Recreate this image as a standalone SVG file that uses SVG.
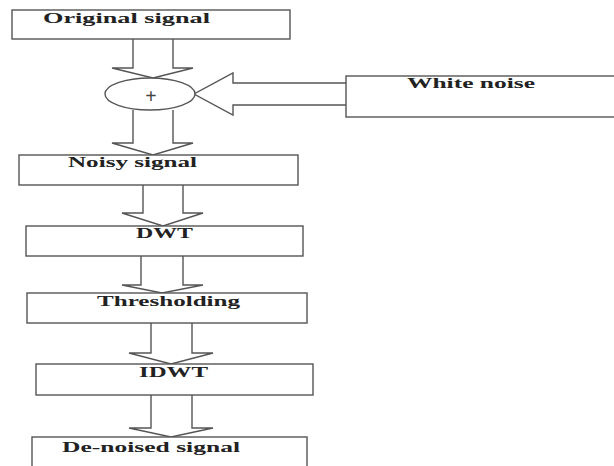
<svg xmlns="http://www.w3.org/2000/svg" width="614" height="466" viewBox="0 0 614 466">
<style>
.box{fill:#fff;stroke:#555;stroke-width:1.4}
.arr{fill:#fff;stroke:#555;stroke-width:1.4;stroke-linejoin:miter}
.lbl{font-family:"Liberation Serif","Times New Roman",serif;font-weight:bold;font-size:15px;fill:#222}
</style>
<rect width="614" height="466" fill="#fff"/>
<g id="connectors">
<polyline class="arr" points="133,39 133,68 112,68 153,78 193,68 173,68 173,39"/>
<polyline class="arr" points="133,110 133,143 112,143 153,155 193,143 173,143 173,110"/>
<polyline class="arr" points="143,185 143,213 122,213 163,226 203,213 183,213 183,185"/>
<polyline class="arr" points="141,256 141,285 122,285 162,293 203,285 183,285 183,256"/>
<polyline class="arr" points="151,323 151,353 129,353 171,364 213,353 192,353 192,323"/>
<polyline class="arr" points="151,395 151,428 129,428 171,437 213,428 192,428 192,395"/>
<polyline class="arr" points="346,83 233,83 233,73 194,94 233,115 233,105 346,105"/>
</g>
<g id="original">
<rect class="box" x="12" y="10" width="278" height="29"/>
<text class="lbl" x="43" y="23" textLength="167" lengthAdjust="spacingAndGlyphs">Original  signal</text>
</g>
<g id="adder">
<ellipse class="box" cx="150" cy="94" rx="45" ry="16"/>
<text class="lbl" x="151" y="103" text-anchor="middle" style="font-size:20px;fill:#444">+</text>
</g>
<g id="whitenoise">
<rect class="box" x="346" y="76" width="274" height="41"/>
<text class="lbl" x="407" y="88" textLength="128" lengthAdjust="spacingAndGlyphs">White noise</text>
</g>
<g id="noisy">
<rect class="box" x="19" y="155" width="279" height="30"/>
<text class="lbl" x="68" y="167" textLength="129" lengthAdjust="spacingAndGlyphs">Noisy signal</text>
</g>
<g id="dwt">
<rect class="box" x="26" y="226" width="277" height="30"/>
<text class="lbl" x="136" y="238" textLength="57" lengthAdjust="spacingAndGlyphs">DWT</text>
</g>
<g id="thresholding">
<rect class="box" x="27" y="293" width="280" height="30"/>
<text class="lbl" x="97" y="306" textLength="143" lengthAdjust="spacingAndGlyphs">Thresholding</text>
</g>
<g id="idwt">
<rect class="box" x="36" y="364" width="277" height="31"/>
<text class="lbl" x="139" y="377" textLength="69" lengthAdjust="spacingAndGlyphs">IDWT</text>
</g>
<g id="denoised">
<rect class="box" x="32" y="437" width="275" height="40"/>
<text class="lbl" x="62" y="452" textLength="178" lengthAdjust="spacingAndGlyphs">De-noised signal</text>
</g>
</svg>
